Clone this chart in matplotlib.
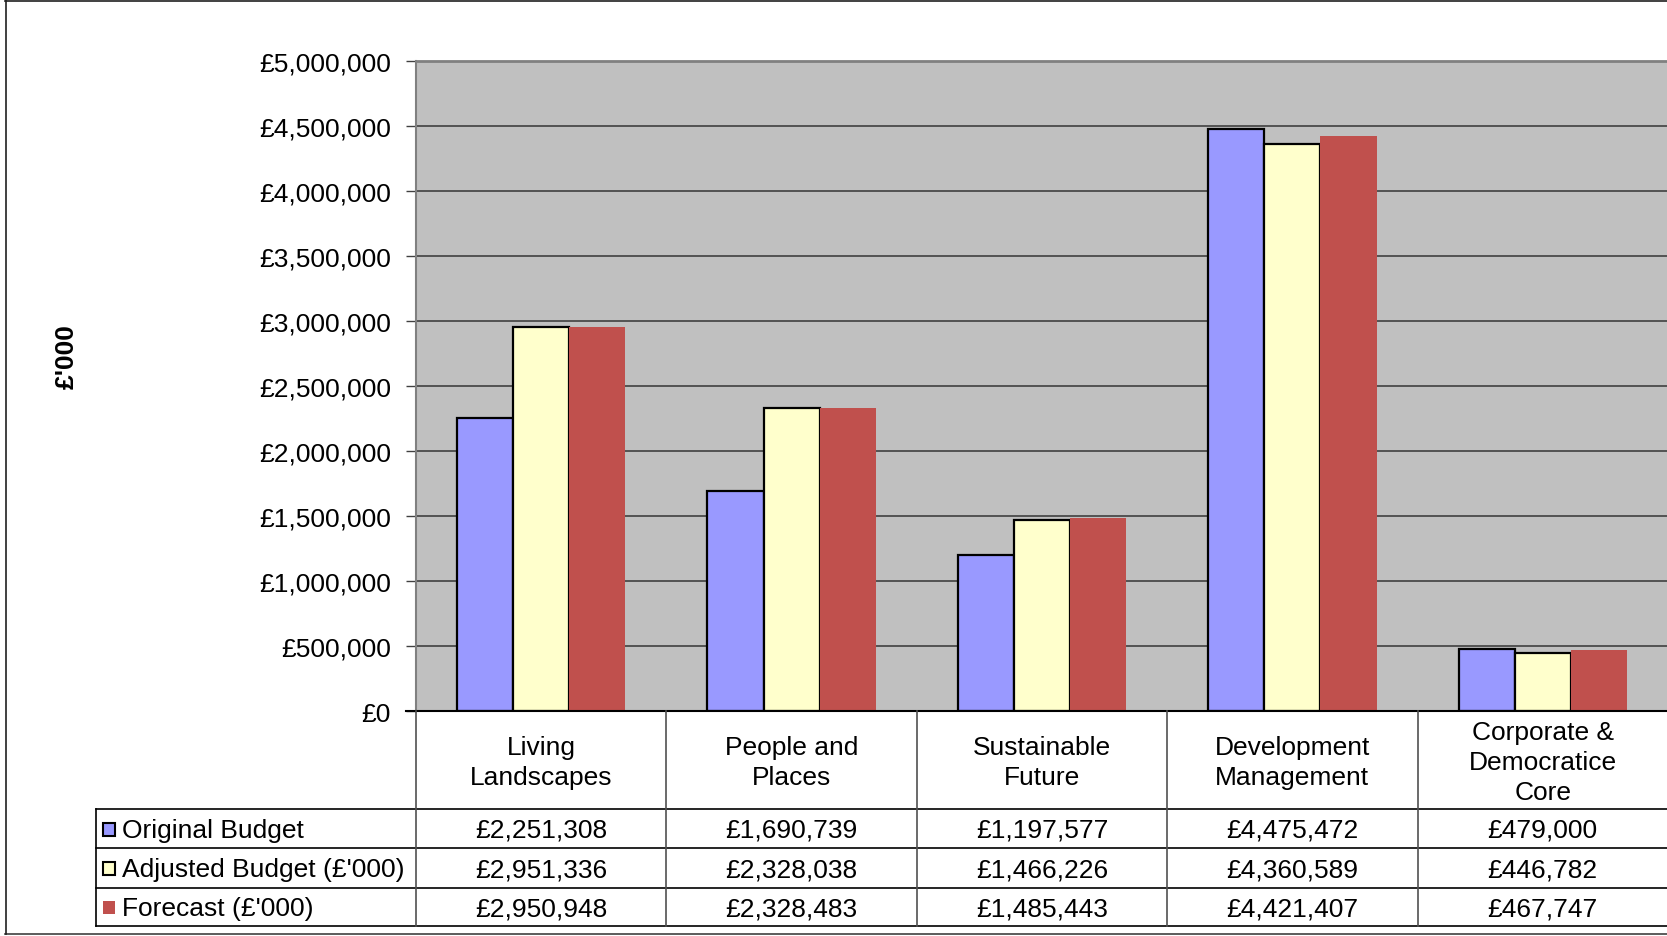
import numpy as np
import matplotlib
matplotlib.use('Agg')
import matplotlib.pyplot as plt
from matplotlib.lines import Line2D
from matplotlib.patches import Rectangle
from matplotlib.ticker import FuncFormatter

plt.rcParams['font.family'] = ['Liberation Sans', 'DejaVu Sans']

categories = ['Living\nLandscapes', 'People and\nPlaces', 'Sustainable\nFuture',
              'Development\nManagement', 'Corporate &\nDemocratice\nCore']
series_names = ['Original Budget', "Adjusted Budget (£'000)", "Forecast (£'000)"]
original = [2251308, 1690739, 1197577, 4475472, 479000]
adjusted = [2951336, 2328038, 1466226, 4360589, 446782]
forecast = [2950948, 2328483, 1485443, 4421407, 467747]
colors = ['#9999FF', '#FFFFCC', '#C0504D']
edges = ['black', 'black', 'none']

FS = 19
W, H = 1667, 937
fig = plt.figure(figsize=(W / 100, H / 100), dpi=100)

def fx(x):
    return x / W

def fy(y):
    return 1 - y / H

# plot area in pixel coords (from the reference)
left, right, top, bottom = 416, 1668, 62, 712
ax = fig.add_axes([fx(left), fy(bottom), fx(right - left), (bottom - top) / H])
ax.set_facecolor('#C0C0C0')

data = [original, adjusted, forecast]
x = np.arange(len(categories)) + 0.5
bw = 0.224
for i, vals in enumerate(data):
    ax.bar(x + (i - 1) * bw, vals, bw, color=colors[i], edgecolor=edges[i],
           linewidth=1.6 if edges[i] != 'none' else 0, zorder=3)

ax.set_xlim(0, len(categories))
ax.set_ylim(0, 5000000)
ax.set_yticks(np.arange(0, 5000001, 500000))
ax.yaxis.set_major_formatter(FuncFormatter(lambda v, p: '£{:,.0f}'.format(v)))
ax.set_xticks([])
ax.grid(axis='y', color='#404040', linewidth=1.2, zorder=1)
ax.tick_params(axis='y', labelsize=FS, length=7, width=1, color='#404040', pad=11)
for s in ['right', 'bottom']:
    ax.spines[s].set_visible(False)
ax.spines['left'].set_color('#808080')
ax.spines['left'].set_linewidth(1.5)
ax.spines['top'].set_color('#808080')
ax.spines['top'].set_linewidth(2)

fig.text(fx(67), fy(357), "£'000", rotation=90, ha='center', va='center',
         fontsize=FS, fontweight='bold')

# data table under the chart
def hline(y, x0, x1, c='black', lw=1.2):
    fig.add_artist(Line2D([fx(x0), fx(x1)], [fy(y), fy(y)], color=c, lw=lw))

def vline(xp, y0, y1, c='black', lw=1.2):
    fig.add_artist(Line2D([fx(xp), fx(xp)], [fy(y0), fy(y1)], color=c, lw=lw))

col_w = (right - left) / len(categories)
row_y = [712, 810, 849, 889, 927]
tab_left = 96

hline(712, left - 10, W, c='black', lw=1.5)
for yy in row_y[1:]:
    hline(yy, tab_left, W)
vline(tab_left, 810, 927)
for j in range(len(categories) + 1):
    vline(left + j * col_w, 712, 927, c='#505050')

for j, cat in enumerate(categories):
    fig.text(fx(left + (j + 0.5) * col_w), fy(763), cat, ha='center', va='center',
             fontsize=FS, linespacing=1.34)

for i, vals in enumerate(data):
    yc = (row_y[i + 1] + row_y[i + 2]) / 2
    fig.add_artist(Rectangle((fx(103), fy(yc + 7)), fx(12), 13 / H,
                             facecolor=colors[i], edgecolor=edges[i], lw=1.5))
    fig.text(fx(122), fy(yc + 1.5), series_names[i], ha='left', va='center', fontsize=FS)
    for j, v in enumerate(vals):
        fig.text(fx(left + (j + 0.5) * col_w), fy(yc + 1.5), '£{:,.0f}'.format(v),
                 ha='center', va='center', fontsize=FS)

# outer frame
hline(1.5, 5, W, c='#202020', lw=1.2)
hline(935, 5, W, c='#404040', lw=1.2)
vline(5.5, 1, 935, c='#202020', lw=1.2)

fig.savefig('out.png', dpi=100)
